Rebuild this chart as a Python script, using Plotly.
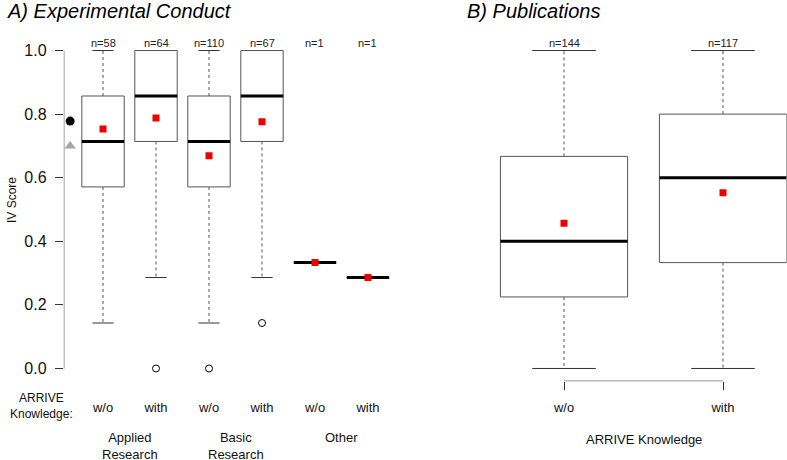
import plotly.graph_objects as go

# ---------------- data ----------------
# Panel A: Experimental Conduct
a_labels = ["w/o", "with", "w/o", "with", "w/o", "with"]
a_groups = ["Applied<br>Research", "Basic<br>Research", "Other"]
a_n = [58, 64, 110, 67, 1, 1]
a_lower = [0.143, 0.286, 0.143, 0.286, 0.333, 0.286]
a_q1 = [0.571, 0.714, 0.571, 0.714, 0.333, 0.286]
a_median = [0.714, 0.857, 0.714, 0.857, 0.333, 0.286]
a_q3 = [0.857, 1.000, 0.857, 1.000, 0.333, 0.286]
a_upper = [1.000, 1.000, 1.000, 1.000, 0.333, 0.286]
a_mean = [0.753, 0.788, 0.669, 0.776, 0.333, 0.286]
a_outliers = [[], [0.0], [0.0], [0.143], [], []]
a_yticks = [0.0, 0.2, 0.4, 0.6, 0.8, 1.0]
# reference markers on the left of panel A
ref_circle = [0.778]
ref_triangle = [0.700]

# Panel B: Publications
b_labels = ["w/o", "with"]
b_n = [144, 117]
b_lower = [0.0, 0.0]
b_q1 = [0.225, 0.333]
b_median = [0.400, 0.600]
b_q3 = [0.667, 0.800]
b_upper = [1.0, 1.0]
b_mean = [0.457, 0.553]
b_outliers = [[], []]

FONT = "Liberation Sans, Arial, sans-serif"
BOXC = "#555555"
HALF = 0.4
CAP = 0.2

fig = go.Figure()


def add_boxes(xa, ya, lower, q1, med, q3, upper, mean, outl):
    pos = list(range(1, len(med) + 1))
    bx, by, wx, wy, cx, cy, mx, my, ox, oy = [], [], [], [], [], [], [], [], [], []
    for p, lo, a, m, b, up, ol in zip(pos, lower, q1, med, q3, upper, outl):
        bx += [p - HALF, p + HALF, p + HALF, p - HALF, p - HALF, None]
        by += [a, a, b, b, a, None]
        wx += [p, p, None, p, p, None]
        wy += [b, up, None, a, lo, None]
        cx += [p - CAP, p + CAP, None, p - CAP, p + CAP, None]
        cy += [up, up, None, lo, lo, None]
        mx += [p - HALF, p + HALF, None]
        my += [m, m, None]
        for v in ol:
            ox.append(p)
            oy.append(v)
    common = dict(xaxis=xa, yaxis=ya, showlegend=False, hoverinfo="skip", mode="lines")
    fig.add_trace(go.Scatter(x=wx, y=wy, line=dict(color=BOXC, width=1, dash="3px,3px"), **common))
    fig.add_trace(go.Scatter(x=cx, y=cy, line=dict(color="#333333", width=1), **common))
    fig.add_trace(go.Scatter(x=bx, y=by, line=dict(color=BOXC, width=1), fill="toself",
                             fillcolor="white", **common))
    fig.add_trace(go.Scatter(x=mx, y=my, line=dict(color="black", width=3), **common))
    fig.add_trace(go.Scatter(x=ox, y=oy, mode="markers", xaxis=xa, yaxis=ya, showlegend=False,
                             marker=dict(symbol="circle-open", size=7, color="black",
                                         line=dict(width=1, color="black"))))
    fig.add_trace(go.Scatter(x=pos, y=mean, mode="markers", xaxis=xa, yaxis=ya, showlegend=False,
                             marker=dict(symbol="square", size=7, color="#ee0000")))
    return pos


a_pos = add_boxes("x", "y", a_lower, a_q1, a_median, a_q3, a_upper, a_mean, a_outliers)
b_pos = add_boxes("x2", "y2", b_lower, b_q1, b_median, b_q3, b_upper, b_mean, b_outliers)

# reference markers
fig.add_trace(go.Scatter(x=[0.38], y=ref_circle, mode="markers", showlegend=False,
                         marker=dict(symbol="circle", size=9, color="black")))
fig.add_trace(go.Scatter(x=[0.38], y=ref_triangle, mode="markers", showlegend=False,
                         marker=dict(symbol="triangle-up", size=10, color="#a6a6a6")))

ann = []
for p, n in zip(a_pos, a_n):
    ann.append(dict(x=p, y=1.0, xref="x", yref="y", text=f"n={n}", showarrow=False,
                    yshift=8, font=dict(size=11, color="#222")))
for p, n in zip(b_pos, b_n):
    ann.append(dict(x=p, y=1.0, xref="x2", yref="y2", text=f"n={n}", showarrow=False,
                    yshift=8, font=dict(size=11, color="#222")))
for i, g in enumerate(a_groups):
    ann.append(dict(x=2 * i + 1.5, y=(460 - 428) / 460, xref="x", yref="paper", text=g,
                    showarrow=False, yanchor="top", font=dict(size=13, color="#111")))
ann.append(dict(x=41 / 787, y=(460 - 405.5) / 460, xref="paper", yref="paper", yanchor="middle",
                xanchor="center", text="ARRIVE<br>Knowledge:", showarrow=False,
                font=dict(size=12, color="#111")))
ann.append(dict(x=1.5, y=(460 - 439) / 460, xref="x2", yref="paper", yanchor="middle",
                xanchor="center", text="ARRIVE Knowledge", showarrow=False,
                font=dict(size=13, color="#111")))
ann.append(dict(x=5 / 787, y=1, xref="paper", yref="paper", text="<i>A) Experimental Conduct</i>",
                xanchor="left", yanchor="top", yshift=2, showarrow=False,
                font=dict(size=20, color="black")))
ann.append(dict(x=465 / 787, y=1, xref="paper", yref="paper", text="<i>B) Publications</i>",
                xanchor="left", yanchor="top", yshift=2, showarrow=False,
                font=dict(size=20, color="black")))
ann.append(dict(x=12 / 787, y=(460 - 200) / 460, xref="paper", yref="paper", text="IV Score",
                textangle=-90, xanchor="center", yanchor="middle", showarrow=False,
                font=dict(size=12, color="#111")))

shapes = [
    dict(type="line", xref="x", yref="y", x0=0.26, x1=0.26, y0=a_yticks[0], y1=a_yticks[-1],
         line=dict(color="#333", width=1)),
    dict(type="line", xref="x2", yref="y2", x0=b_pos[0], x1=b_pos[-1], y0=-0.04, y1=-0.04,
         line=dict(color="#333", width=1)),
]

ydom = [(460 - 381.2) / 460, (460 - 37.8) / 460]
fig.update_layout(
    width=787, height=460, margin=dict(l=0, r=0, t=0, b=0, autoexpand=False),
    paper_bgcolor="white", plot_bgcolor="white",
    font=dict(family=FONT, color="#111"),
    annotations=ann, shapes=shapes,
    xaxis=dict(domain=[63.8 / 787, 407.2 / 787], range=[0.26, 6.74], tickvals=a_pos, ticktext=a_labels,
               ticks="outside", ticklen=8, tickcolor="rgba(0,0,0,0)", showline=False, showgrid=False,
               zeroline=False, tickfont=dict(size=13), ticklabelstandoff=6, automargin=False),
    yaxis=dict(domain=ydom, range=[-0.04, 1.04], tickvals=a_yticks, tickformat=".1f",
               ticks="outside", ticklen=8, tickcolor="#333", showline=False, showgrid=False,
               zeroline=False, tickfont=dict(size=16), ticklabelstandoff=5, automargin=False),
    xaxis2=dict(domain=[471.8 / 787, 786.6 / 787], range=[0.42, 2.4], tickvals=b_pos, ticktext=b_labels,
                ticks="outside", ticklen=8, tickcolor="#333", showline=False, showgrid=False,
                zeroline=False, tickfont=dict(size=13), anchor="y2", ticklabelstandoff=6,
                automargin=False),
    yaxis2=dict(domain=ydom, range=[-0.04, 1.04], visible=False, anchor="x2", automargin=False),
)

# remove the browser's default page margin so the 787x460 figure fills the window exactly
fig.write_html("out.html", config={"displayModeBar": False},
               post_script="document.body.style.margin='0px';")
